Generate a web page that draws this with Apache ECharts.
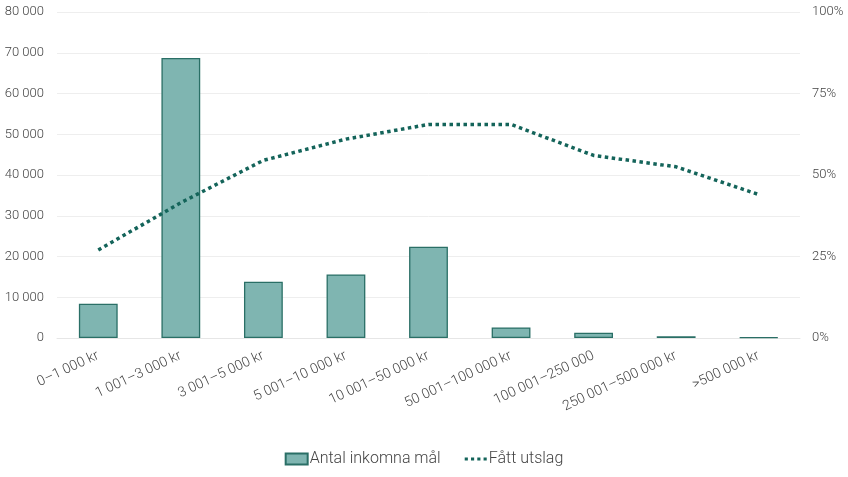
<!DOCTYPE html>
<html><head><meta charset="utf-8">
<script src="https://cdn.jsdelivr.net/npm/echarts@6/dist/echarts.min.js"></script>
<style>html,body{margin:0;padding:0;background:#fff}#c{width:848px;height:477px}</style>
</head><body><div id="c"></div>
<script>
const categories = ['0–1 000 kr','1 001–3 000 kr','3 001–5 000 kr','5 001–10 000 kr','10 001–50 000 kr','50 001–100 000 kr','100 001–250 000','250 001–500 000 kr','>500 000 kr'];
const antalMal = [8400, 68700, 13800, 15600, 22400, 2600, 1300, 400, 150];
const fattUtslag = [27, 41.5, 54.5, 61, 65.5, 65.5, 56, 52.5, 44];
const leftTicks = [0, 80000, 10000];
const rightTicks = [0, 100, 25];

const font = 'Roboto';
const dotted = 'path://M0,0h3v3h-3z M6,0h3v3h-3z M12,0h3v3h-3z M18,0h3v3h-3z';
const chart = echarts.init(document.getElementById('c'));
chart.setOption({
  animation: false,
  grid: {left: 57, right: 48, top: 12, bottom: 139},
  legend: {
    bottom: 5, left: 'center', itemGap: 24, itemWidth: 22, itemHeight: 11,
    textStyle: {fontFamily: font, fontSize: 16, color: '#444', fontWeight: 300, padding: [0, 0, 0, -3]},
    data: [
      {name: 'Antal inkomna mål', icon: 'rect'},
      {name: 'Fått utslag', icon: dotted, itemStyle: {color: '#14645a', borderWidth: 0}}
    ]
  },
  xAxis: {
    type: 'category', data: categories,
    axisTick: {show: false},
    axisLine: {lineStyle: {color: '#e6e6e6'}},
    axisLabel: {rotate: 25, interval: 0, fontFamily: font, fontSize: 14, color: '#444', fontWeight: 300, margin: 17}
  },
  yAxis: [
    {type: 'value', min: leftTicks[0], max: leftTicks[1], interval: leftTicks[2],
     axisLine: {show: false}, axisTick: {show: false},
     splitLine: {lineStyle: {color: '#eeeeee'}},
     axisLabel: {fontFamily: font, fontSize: 13, color: '#444', fontWeight: 300, margin: 13,
       formatter: v => v === 0 ? '0' : String(v).replace(/\B(?=(\d{3})+(?!\d))/g, ' ')}},
    {type: 'value', min: rightTicks[0], max: rightTicks[1], interval: rightTicks[2],
     axisLine: {show: false}, axisTick: {show: false}, splitLine: {show: false},
     axisLabel: {fontFamily: font, fontSize: 13, color: '#444', fontWeight: 300, margin: 12, formatter: '{value}%'}}
  ],
  series: [
    {name: 'Antal inkomna mål', type: 'bar', data: antalMal, barWidth: '47%',
     itemStyle: {color: '#7fb5b1', borderColor: '#2a6f66', borderWidth: 1.3}},
    {name: 'Fått utslag', type: 'line', yAxisIndex: 1, data: fattUtslag, symbol: 'none',
     lineStyle: {color: '#14645a', width: 3.5, type: [3.5, 3.5]},
     itemStyle: {color: '#14645a'}, z: 5}
  ]
});
</script></body></html>
